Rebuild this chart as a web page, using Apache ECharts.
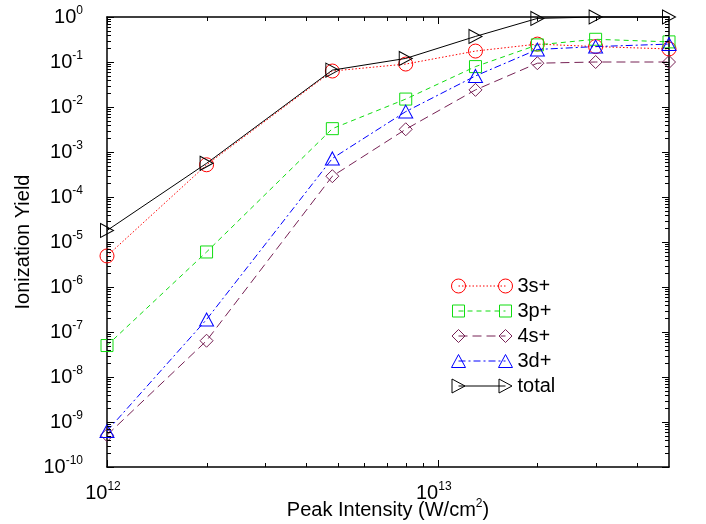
<!DOCTYPE html>
<html>
<head>
<meta charset="utf-8">
<script src="https://cdn.jsdelivr.net/npm/echarts@6/dist/echarts.min.js"></script>
<style>
  html, body { margin: 0; padding: 0; background: #fff; }
  #chart { width: 706px; height: 524px; }
</style>
</head>
<body>
<div id="chart"></div>
<script>
// Peak intensities (W/cm^2) shared by every curve
const intensity = [1e12, 2e12, 4.8e12, 8e12, 1.3e13, 2e13, 3e13, 5e13];

// Ionization yields per final state
const yield3s    = [4.9e-6, 5.2e-4, 0.063, 0.09, 0.175, 0.25, 0.22, 0.195];
const yield3p    = [5e-8, 6e-6, 3.3e-3, 0.015, 0.079, 0.24, 0.32, 0.28];
const yield4s    = [5.1e-10, 6.4e-8, 2.9e-4, 3.2e-3, 0.024, 0.094, 0.1, 0.1];
const yield3d    = [6.3e-10, 1.9e-7, 7.2e-4, 7.9e-3, 0.049, 0.19, 0.22, 0.25];
const yieldTotal = [1.8e-5, 5.6e-4, 0.066, 0.12, 0.37, 0.93, 1.0, 1.0];

const seriesNames = ['3s+', '3p+', '4s+', '3d+', 'total'];

// Decade exponents that carry a labelled tick
const xTickExponents = [12, 13];
const yTickExponents = [-10, -9, -8, -7, -6, -5, -4, -3, -2, -1, 0];
const minorMultipliers = [2, 3, 4, 5, 6, 7, 8, 9];

const xMin = 1e12, xMax = 5e13;
const yMin = 1e-10, yMax = 1;

const font = "'Liberation Sans', Arial, Helvetica, sans-serif";
const black = '#000000';
const majorLen = 7, minorLen = 4;

const pow10 = e => Number('1e' + e);
const xMajor = xTickExponents.map(pow10);
const yMajor = yTickExponents.map(pow10);

function minorValues(exps, maxVal) {
  const out = [];
  exps.forEach(e => {
    minorMultipliers.forEach(m => {
      const v = Number(m + 'e' + e);
      if (v < maxVal) out.push(v);
    });
  });
  return out;
}
const xMinor = minorValues(xTickExponents, xMax);
const yMinor = minorValues(yTickExponents.slice(0, -1), yMax);

function powLabel(v) {
  const e = Math.round(Math.log10(v));
  return '{b|10}{s|' + e + '}';
}
const powRich = {
  b: { fontSize: 20, fontFamily: font, color: black },
  s: { fontSize: 12, fontFamily: font, color: black, padding: [0, 0, 13, 0] }
};

// Log axis carrying one side of the box (line and, optionally, labels)
function logAxis(kind, position, extra) {
  const isX = kind === 'x';
  return Object.assign({
    type: 'log',
    logBase: 10,
    min: isX ? xMin : yMin,
    max: isX ? xMax : yMax,
    position: position,
    silent: true,
    axisLine: { show: true, onZero: false, lineStyle: { color: black, width: 1.5 } },
    axisTick: { show: false },
    axisLabel: { show: false },
    splitLine: { show: false },
    minorTick: { show: false },
    minorSplitLine: { show: false }
  }, extra || {});
}

// Inward tick marks on both opposite sides of the box, placed through the axis scales
const xTickData = xMajor.map(v => [v, yMin, majorLen]).concat(xMinor.map(v => [v, yMin, minorLen]));
const yTickData = yMajor.map(v => [xMin, v, majorLen]).concat(yMinor.map(v => [xMin, v, minorLen]));

function tickLine(x1, y1, x2, y2) {
  return { type: 'line', shape: { x1, y1, x2, y2 }, style: { stroke: black, lineWidth: 1 } };
}
const tickSeries = [
  {
    type: 'custom', xAxisIndex: 0, yAxisIndex: 0, silent: true, clip: false, z: 20,
    encode: { x: 0, y: 1 },
    data: xTickData,
    renderItem: (params, api) => {
      const v = api.value(0), len = api.value(2);
      const b = api.coord([v, yMin]), t = api.coord([v, yMax]);
      const px = Math.round(b[0]) + 0.5;
      return { type: 'group', children: [
        tickLine(px, b[1], px, b[1] - len),
        tickLine(px, t[1], px, t[1] + len)
      ] };
    }
  },
  {
    type: 'custom', xAxisIndex: 0, yAxisIndex: 0, silent: true, clip: false, z: 20,
    encode: { x: 0, y: 1 },
    data: yTickData,
    renderItem: (params, api) => {
      const v = api.value(1), len = api.value(2);
      const l = api.coord([xMin, v]), r = api.coord([xMax, v]);
      const py = Math.round(l[1]) + 0.5;
      return { type: 'group', children: [
        tickLine(l[0], py, l[0] + len, py),
        tickLine(r[0], py, r[0] - len, py)
      ] };
    }
  }
];

// Marker outlines used both on the curves and in the legend keys
const markerPaths = {
  circle:   (cx, cy) => `M${cx - 7} ${cy} A7 7 0 1 0 ${cx + 7} ${cy} A7 7 0 1 0 ${cx - 7} ${cy} Z`,
  square:   (cx, cy) => `M${cx - 6} ${cy - 6} L${cx + 6} ${cy - 6} L${cx + 6} ${cy + 6} L${cx - 6} ${cy + 6} Z`,
  diamond:  (cx, cy) => `M${cx} ${cy - 6.5} L${cx + 6.5} ${cy} L${cx} ${cy + 6.5} L${cx - 6.5} ${cy} Z`,
  triUp:    (cx, cy) => `M${cx} ${cy - 6.5} L${cx + 7} ${cy + 6.5} L${cx - 7} ${cy + 6.5} Z`,
  triRight: (cx, cy) => `M${cx - 6.5} ${cy - 7} L${cx + 6.5} ${cy} L${cx - 6.5} ${cy + 7} Z`
};

const styles = [
  { color: '#ff0000', dash: [1.5, 2],     marker: 'circle',   symbol: 'circle',   size: 14 },
  { color: '#11dd11', dash: [5, 4],       marker: 'square',   symbol: 'rect',     size: 12 },
  { color: '#772255', dash: [9, 5],       marker: 'diamond',  symbol: 'diamond',  size: 13 },
  { color: '#0000ff', dash: [7, 3, 2, 3], marker: 'triUp',    symbol: 'triangle', size: [14, 13] },
  { color: '#000000', dash: null,         marker: 'triRight', symbol: 'path://M0 0L13 7L0 14Z', size: [13, 14] }
];

const keyW = 61, keyH = 14;
function dashedPath(x0, x1, y, pattern) {
  if (!pattern) return `M${x0} ${y} L${x1} ${y}`;
  let p = '', x = x0, k = 0;
  while (x < x1) {
    const len = pattern[k % pattern.length];
    if (k % 2 === 0) p += `M${x} ${y} L${Math.min(x + len, x1)} ${y} `;
    x += len;
    k++;
  }
  return p;
}
function legendIcon(st) {
  const c = keyH / 2;
  return 'path://M0 0 M' + keyW + ' ' + keyH + ' ' +
    markerPaths[st.marker](7, c) + ' ' +
    markerPaths[st.marker](keyW - 7, c) + ' ' +
    dashedPath(7, keyW - 7, c, st.dash);
}

const yieldSets = [yield3s, yield3p, yield4s, yield3d, yieldTotal];

const series = seriesNames.map((name, i) => {
  const st = styles[i];
  return {
    name: name,
    type: 'line',
    xAxisIndex: 0,
    yAxisIndex: 0,
    data: intensity.map((x, j) => [x, yieldSets[i][j]]),
    symbol: st.symbol,
    symbolSize: st.size,
    symbolKeepAspect: false,
    showSymbol: true,
    showAllSymbol: true,
    clip: false,
    silent: true,
    itemStyle: { color: 'rgba(0,0,0,0)', borderColor: st.color, borderWidth: 1 },
    lineStyle: { color: st.color, width: 1, type: st.dash || 'solid' },
    emphasis: { disabled: true },
    z: 2 + i
  };
});

const legendData = seriesNames.map((name, i) => ({
  name: name,
  icon: legendIcon(styles[i]),
  itemStyle: { color: 'rgba(0,0,0,0)', borderColor: styles[i].color, borderWidth: 1 }
}));

const chart = echarts.init(document.getElementById('chart'), null, { renderer: 'canvas' });
chart.setOption({
  animation: false,
  backgroundColor: '#ffffff',
  grid: { left: 107, right: 37, top: 17, bottom: 57, containLabel: false, outerBoundsMode: 'none' },
  legend: {
    orient: 'vertical',
    left: 446,
    top: 271,
    itemWidth: keyW,
    itemHeight: keyH,
    itemGap: 5,
    selectedMode: false,
    textStyle: { fontSize: 20, color: black, fontFamily: font },
    data: legendData
  },
  xAxis: [
    logAxis('x', 'bottom', {
      name: 'Peak Intensity (W/cm{s|2})',
      nameLocation: 'middle',
      nameGap: 31,
      nameMoveOverlap: false,
      nameTextStyle: {
        fontSize: 20, fontFamily: font, color: black,
        rich: { s: { fontSize: 12, fontFamily: font, color: black, padding: [0, 0, 13, 0] } }
      },
      axisLabel: { show: true, customValues: xMajor, formatter: powLabel, rich: powRich,
                   margin: 14, padding: [0, 8, 0, 0], color: black }
    }),
    logAxis('x', 'top')
  ],
  yAxis: [
    logAxis('y', 'left', {
      name: 'Ionization Yield',
      nameLocation: 'middle',
      nameGap: 74,
      nameMoveOverlap: false,
      nameTextStyle: { fontSize: 20, fontFamily: font, color: black },
      axisLabel: { show: true, customValues: yMajor, formatter: powLabel, rich: powRich,
                   margin: 24, color: black }
    }),
    logAxis('y', 'right')
  ],
  series: series.concat(tickSeries)
});
</script>
</body>
</html>
